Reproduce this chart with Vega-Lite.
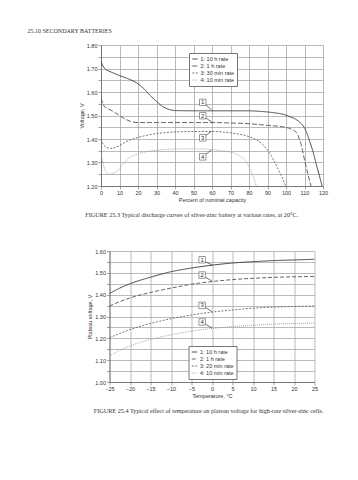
{
  "$schema": "https://vega.github.io/schema/vega-lite/v6.json",
  "padding": {"left": 27, "top": 27, "right": 5, "bottom": 5},
  "background": "white",
  "title": {"text": "25.10     SECONDARY BATTERIES", "anchor": "start", "dx": -51.8, "offset": 9.5, "font": "Liberation Serif", "fontSize": 6, "fontWeight": "normal", "color": "#333"},
  "bounds": "flush",
  "center": true,
  "spacing": 65,
  "datasets": {
    "discharge": [
      {"x": 0, "v": 1.73, "s": "1: 10 h rate"}, {"x": 1, "v": 1.712, "s": "1: 10 h rate"}, {"x": 2, "v": 1.70, "s": "1: 10 h rate"}, {"x": 4, "v": 1.69, "s": "1: 10 h rate"}, {"x": 7, "v": 1.68, "s": "1: 10 h rate"}, {"x": 10, "v": 1.67, "s": "1: 10 h rate"}, {"x": 15, "v": 1.655, "s": "1: 10 h rate"}, {"x": 20, "v": 1.635, "s": "1: 10 h rate"}, {"x": 23, "v": 1.615, "s": "1: 10 h rate"}, {"x": 26, "v": 1.59, "s": "1: 10 h rate"}, {"x": 30, "v": 1.56, "s": "1: 10 h rate"}, {"x": 33, "v": 1.54, "s": "1: 10 h rate"}, {"x": 36, "v": 1.528, "s": "1: 10 h rate"}, {"x": 40, "v": 1.521, "s": "1: 10 h rate"}, {"x": 50, "v": 1.52, "s": "1: 10 h rate"}, {"x": 60, "v": 1.52, "s": "1: 10 h rate"}, {"x": 70, "v": 1.52, "s": "1: 10 h rate"}, {"x": 80, "v": 1.52, "s": "1: 10 h rate"}, {"x": 85, "v": 1.518, "s": "1: 10 h rate"}, {"x": 90, "v": 1.515, "s": "1: 10 h rate"}, {"x": 95, "v": 1.51, "s": "1: 10 h rate"}, {"x": 98.5, "v": 1.505, "s": "1: 10 h rate"}, {"x": 102, "v": 1.495, "s": "1: 10 h rate"}, {"x": 105, "v": 1.485, "s": "1: 10 h rate"}, {"x": 107.6, "v": 1.47, "s": "1: 10 h rate"}, {"x": 110.2, "v": 1.444, "s": "1: 10 h rate"}, {"x": 113, "v": 1.385, "s": "1: 10 h rate"}, {"x": 115, "v": 1.335, "s": "1: 10 h rate"}, {"x": 116.6, "v": 1.285, "s": "1: 10 h rate"}, {"x": 118, "v": 1.245, "s": "1: 10 h rate"}, {"x": 119.5, "v": 1.20, "s": "1: 10 h rate"},
      {"x": 0, "v": 1.575, "s": "2: 1 h rate"}, {"x": 1, "v": 1.55, "s": "2: 1 h rate"}, {"x": 2, "v": 1.537, "s": "2: 1 h rate"}, {"x": 4, "v": 1.528, "s": "2: 1 h rate"}, {"x": 6, "v": 1.52, "s": "2: 1 h rate"}, {"x": 8, "v": 1.51, "s": "2: 1 h rate"}, {"x": 10, "v": 1.50, "s": "2: 1 h rate"}, {"x": 13, "v": 1.485, "s": "2: 1 h rate"}, {"x": 16, "v": 1.475, "s": "2: 1 h rate"}, {"x": 20, "v": 1.47, "s": "2: 1 h rate"}, {"x": 30, "v": 1.47, "s": "2: 1 h rate"}, {"x": 40, "v": 1.47, "s": "2: 1 h rate"}, {"x": 50, "v": 1.47, "s": "2: 1 h rate"}, {"x": 60, "v": 1.47, "s": "2: 1 h rate"}, {"x": 70, "v": 1.468, "s": "2: 1 h rate"}, {"x": 80, "v": 1.465, "s": "2: 1 h rate"}, {"x": 90, "v": 1.458, "s": "2: 1 h rate"}, {"x": 98, "v": 1.452, "s": "2: 1 h rate"}, {"x": 102, "v": 1.445, "s": "2: 1 h rate"}, {"x": 104, "v": 1.437, "s": "2: 1 h rate"}, {"x": 105.7, "v": 1.427, "s": "2: 1 h rate"}, {"x": 107.2, "v": 1.40, "s": "2: 1 h rate"}, {"x": 108.4, "v": 1.37, "s": "2: 1 h rate"}, {"x": 110.3, "v": 1.30, "s": "2: 1 h rate"}, {"x": 112.1, "v": 1.243, "s": "2: 1 h rate"}, {"x": 113.5, "v": 1.20, "s": "2: 1 h rate"},
      {"x": 0, "v": 1.40, "s": "3: 30 min rate"}, {"x": 1, "v": 1.38, "s": "3: 30 min rate"}, {"x": 3, "v": 1.365, "s": "3: 30 min rate"}, {"x": 5, "v": 1.36, "s": "3: 30 min rate"}, {"x": 7, "v": 1.362, "s": "3: 30 min rate"}, {"x": 10, "v": 1.372, "s": "3: 30 min rate"}, {"x": 14, "v": 1.39, "s": "3: 30 min rate"}, {"x": 18, "v": 1.402, "s": "3: 30 min rate"}, {"x": 25, "v": 1.416, "s": "3: 30 min rate"}, {"x": 30, "v": 1.423, "s": "3: 30 min rate"}, {"x": 40, "v": 1.43, "s": "3: 30 min rate"}, {"x": 50, "v": 1.432, "s": "3: 30 min rate"}, {"x": 60, "v": 1.432, "s": "3: 30 min rate"}, {"x": 70, "v": 1.426, "s": "3: 30 min rate"}, {"x": 75, "v": 1.42, "s": "3: 30 min rate"}, {"x": 80, "v": 1.41, "s": "3: 30 min rate"}, {"x": 85, "v": 1.392, "s": "3: 30 min rate"}, {"x": 88, "v": 1.372, "s": "3: 30 min rate"}, {"x": 91, "v": 1.342, "s": "3: 30 min rate"}, {"x": 94, "v": 1.30, "s": "3: 30 min rate"}, {"x": 96, "v": 1.268, "s": "3: 30 min rate"}, {"x": 98, "v": 1.234, "s": "3: 30 min rate"}, {"x": 99.8, "v": 1.20, "s": "3: 30 min rate"},
      {"x": 0, "v": 1.34, "s": "4: 10 min rate"}, {"x": 1, "v": 1.30, "s": "4: 10 min rate"}, {"x": 2, "v": 1.272, "s": "4: 10 min rate"}, {"x": 3, "v": 1.256, "s": "4: 10 min rate"}, {"x": 4.5, "v": 1.25, "s": "4: 10 min rate"}, {"x": 6, "v": 1.252, "s": "4: 10 min rate"}, {"x": 8, "v": 1.26, "s": "4: 10 min rate"}, {"x": 10, "v": 1.275, "s": "4: 10 min rate"}, {"x": 12, "v": 1.295, "s": "4: 10 min rate"}, {"x": 15, "v": 1.318, "s": "4: 10 min rate"}, {"x": 20, "v": 1.337, "s": "4: 10 min rate"}, {"x": 25, "v": 1.347, "s": "4: 10 min rate"}, {"x": 30, "v": 1.352, "s": "4: 10 min rate"}, {"x": 40, "v": 1.357, "s": "4: 10 min rate"}, {"x": 50, "v": 1.358, "s": "4: 10 min rate"}, {"x": 60, "v": 1.355, "s": "4: 10 min rate"}, {"x": 65, "v": 1.35, "s": "4: 10 min rate"}, {"x": 70, "v": 1.344, "s": "4: 10 min rate"}, {"x": 75, "v": 1.328, "s": "4: 10 min rate"}, {"x": 78, "v": 1.308, "s": "4: 10 min rate"}, {"x": 80, "v": 1.283, "s": "4: 10 min rate"}, {"x": 82, "v": 1.245, "s": "4: 10 min rate"}, {"x": 84, "v": 1.20, "s": "4: 10 min rate"}
    ],
    "discharge_tags": [
      {"n": "1", "x": 55, "v": 1.556, "x1": 56.7, "v1": 1.545, "x2": 59.8, "v2": 1.524},
      {"n": "2", "x": 55, "v": 1.499, "x1": 56.7, "v1": 1.489, "x2": 59.8, "v2": 1.473},
      {"n": "3", "x": 55, "v": 1.405, "x1": 56.7, "v1": 1.416, "x2": 59.8, "v2": 1.433},
      {"n": "4", "x": 55, "v": 1.324, "x1": 56.7, "v1": 1.335, "x2": 59.8, "v2": 1.354}
    ],
    "plateau": [
      {"t": -25, "v": 1.405, "s": "1: 10 h rate"}, {"t": -22.5, "v": 1.43, "s": "1: 10 h rate"}, {"t": -20, "v": 1.45, "s": "1: 10 h rate"}, {"t": -15, "v": 1.48, "s": "1: 10 h rate"}, {"t": -10, "v": 1.505, "s": "1: 10 h rate"}, {"t": -5, "v": 1.522, "s": "1: 10 h rate"}, {"t": 0, "v": 1.535, "s": "1: 10 h rate"}, {"t": 5, "v": 1.545, "s": "1: 10 h rate"}, {"t": 10, "v": 1.551, "s": "1: 10 h rate"}, {"t": 15, "v": 1.556, "s": "1: 10 h rate"}, {"t": 20, "v": 1.559, "s": "1: 10 h rate"}, {"t": 25, "v": 1.562, "s": "1: 10 h rate"},
      {"t": -25, "v": 1.348, "s": "2: 1 h rate"}, {"t": -22.5, "v": 1.368, "s": "2: 1 h rate"}, {"t": -20, "v": 1.385, "s": "2: 1 h rate"}, {"t": -15, "v": 1.41, "s": "2: 1 h rate"}, {"t": -10, "v": 1.43, "s": "2: 1 h rate"}, {"t": -5, "v": 1.448, "s": "2: 1 h rate"}, {"t": 0, "v": 1.46, "s": "2: 1 h rate"}, {"t": 5, "v": 1.469, "s": "2: 1 h rate"}, {"t": 10, "v": 1.475, "s": "2: 1 h rate"}, {"t": 15, "v": 1.479, "s": "2: 1 h rate"}, {"t": 20, "v": 1.482, "s": "2: 1 h rate"}, {"t": 25, "v": 1.483, "s": "2: 1 h rate"},
      {"t": -25, "v": 1.203, "s": "3: 20 min rate"}, {"t": -22.5, "v": 1.222, "s": "3: 20 min rate"}, {"t": -20, "v": 1.24, "s": "3: 20 min rate"}, {"t": -15, "v": 1.268, "s": "3: 20 min rate"}, {"t": -10, "v": 1.29, "s": "3: 20 min rate"}, {"t": -5, "v": 1.307, "s": "3: 20 min rate"}, {"t": 0, "v": 1.32, "s": "3: 20 min rate"}, {"t": 5, "v": 1.33, "s": "3: 20 min rate"}, {"t": 10, "v": 1.338, "s": "3: 20 min rate"}, {"t": 15, "v": 1.343, "s": "3: 20 min rate"}, {"t": 20, "v": 1.346, "s": "3: 20 min rate"}, {"t": 25, "v": 1.348, "s": "3: 20 min rate"},
      {"t": -25, "v": 1.119, "s": "4: 10 min rate"}, {"t": -22.5, "v": 1.145, "s": "4: 10 min rate"}, {"t": -20, "v": 1.165, "s": "4: 10 min rate"}, {"t": -15, "v": 1.195, "s": "4: 10 min rate"}, {"t": -10, "v": 1.216, "s": "4: 10 min rate"}, {"t": -5, "v": 1.233, "s": "4: 10 min rate"}, {"t": 0, "v": 1.245, "s": "4: 10 min rate"}, {"t": 5, "v": 1.254, "s": "4: 10 min rate"}, {"t": 10, "v": 1.26, "s": "4: 10 min rate"}, {"t": 15, "v": 1.265, "s": "4: 10 min rate"}, {"t": 20, "v": 1.268, "s": "4: 10 min rate"}, {"t": 25, "v": 1.27, "s": "4: 10 min rate"}
    ],
    "plateau_tags": [
      {"n": "1", "t": -2.4, "v": 1.560, "t1": -1.6, "v1": 1.550, "t2": 0, "v2": 1.537},
      {"n": "2", "t": -2.4, "v": 1.490, "t1": -1.6, "v1": 1.480, "t2": 0, "v2": 1.462},
      {"n": "3", "t": -2.4, "v": 1.351, "t1": -1.6, "v1": 1.341, "t2": 0, "v2": 1.322},
      {"n": "4", "t": -2.4, "v": 1.275, "t1": -1.6, "v1": 1.265, "t2": 0, "v2": 1.247}
    ]
  },
  "vconcat": [
    {
      "width": 222,
      "height": 141,
      "title": {"text": "FIGURE 25.3    Typical discharge curves of silver-zinc battery at various rates, at 20°C.", "orient": "bottom", "anchor": "start", "offset": 9, "dx": 6, "font": "Liberation Serif", "fontSize": 6.2, "fontWeight": "normal", "color": "#333"},
      "layer": [
        {
          "data": {"name": "discharge"},
          "mark": {"type": "line", "strokeWidth": 0.9, "clip": true, "interpolate": "monotone"},
          "encoding": {
            "x": {"field": "x", "type": "quantitative", "scale": {"domain": [0, 120], "nice": false},
                  "axis": {"values": [0, 10, 20, 30, 40, 50, 60, 70, 80, 90, 100, 110, 120], "labelOverlap": false, "title": "Percent of nominal capacity"}},
            "y": {"field": "v", "type": "quantitative", "scale": {"domain": [1.2, 1.8], "zero": false, "nice": false},
                  "axis": {"values": [1.2, 1.25, 1.3, 1.35, 1.4, 1.45, 1.5, 1.55, 1.6, 1.65, 1.7, 1.75, 1.8], "labelOverlap": false,
                           "labelExpr": "round(datum.value*100) % 10 == 0 ? format(datum.value, '.2f') : ''", "title": "Voltage, V"}},
            "color": {"field": "s", "type": "nominal",
                      "scale": {"domain": ["1: 10 h rate", "2: 1 h rate", "3: 30 min rate", "4: 10 min rate"], "range": ["#333333", "#555555", "#666666", "#a0a0a0"]},
                      "legend": {"orient": "none", "legendX": 88, "legendY": 8, "title": null}},
            "strokeDash": {"field": "s", "type": "nominal",
                      "scale": {"domain": ["1: 10 h rate", "2: 1 h rate", "3: 30 min rate", "4: 10 min rate"], "range": [[1, 0], [5, 2], [2, 1.5], [1, 1]]},
                      "legend": {"orient": "none", "legendX": 88, "legendY": 8, "title": null}}
          }
        },
        {
          "data": {"name": "discharge_tags"},
          "mark": {"type": "rule", "stroke": "#333", "strokeWidth": 0.7},
          "encoding": {
            "x": {"field": "x1", "type": "quantitative", "axis": {"values": [0, 10, 20, 30, 40, 50, 60, 70, 80, 90, 100, 110, 120], "labelOverlap": false, "title": "Percent of nominal capacity"}},
            "y": {"field": "v1", "type": "quantitative", "axis": {"values": [1.2, 1.25, 1.3, 1.35, 1.4, 1.45, 1.5, 1.55, 1.6, 1.65, 1.7, 1.75, 1.8], "labelOverlap": false,
                           "labelExpr": "round(datum.value*100) % 10 == 0 ? format(datum.value, '.2f') : ''", "title": "Voltage, V"}},
            "x2": {"field": "x2"}, "y2": {"field": "v2"}}
        },
        {
          "data": {"name": "discharge_tags"},
          "mark": {"type": "point", "shape": "square", "filled": true, "fill": "white", "stroke": "#555", "strokeWidth": 0.6, "size": 42, "opacity": 1},
          "encoding": {
            "x": {"field": "x", "type": "quantitative", "axis": {"values": [0, 10, 20, 30, 40, 50, 60, 70, 80, 90, 100, 110, 120], "labelOverlap": false, "title": "Percent of nominal capacity"}},
            "y": {"field": "v", "type": "quantitative", "axis": {"values": [1.2, 1.25, 1.3, 1.35, 1.4, 1.45, 1.5, 1.55, 1.6, 1.65, 1.7, 1.75, 1.8], "labelOverlap": false,
                           "labelExpr": "round(datum.value*100) % 10 == 0 ? format(datum.value, '.2f') : ''", "title": "Voltage, V"}}}
        },
        {
          "data": {"name": "discharge_tags"},
          "mark": {"type": "text", "fontSize": 6, "color": "#333", "baseline": "middle", "align": "center"},
          "encoding": {
            "x": {"field": "x", "type": "quantitative", "axis": {"values": [0, 10, 20, 30, 40, 50, 60, 70, 80, 90, 100, 110, 120], "labelOverlap": false, "title": "Percent of nominal capacity"}},
            "y": {"field": "v", "type": "quantitative", "axis": {"values": [1.2, 1.25, 1.3, 1.35, 1.4, 1.45, 1.5, 1.55, 1.6, 1.65, 1.7, 1.75, 1.8], "labelOverlap": false,
                           "labelExpr": "round(datum.value*100) % 10 == 0 ? format(datum.value, '.2f') : ''", "title": "Voltage, V"}},
            "text": {"field": "n"}}
        }
      ]
    },
    {
      "width": 205,
      "height": 131,
      "title": {"text": "FIGURE 25.4    Typical effect of temperature on plateau voltage for high-rate silver-zinc cells.", "orient": "bottom", "anchor": "start", "offset": 9, "dx": 6, "font": "Liberation Serif", "fontSize": 6.2, "fontWeight": "normal", "color": "#333"},
      "layer": [
        {
          "data": {"name": "plateau"},
          "mark": {"type": "line", "strokeWidth": 0.9, "clip": true, "interpolate": "monotone"},
          "encoding": {
            "x": {"field": "t", "type": "quantitative", "scale": {"domain": [-25, 25], "nice": false},
                  "axis": {"values": [-25, -20, -15, -10, -5, 0, 5, 10, 15, 20, 25], "labelOverlap": false, "labelExpr": "replace(format(datum.value, 'd'), '-', '−')", "title": "Temperature, °C"}},
            "y": {"field": "v", "type": "quantitative", "scale": {"domain": [1.0, 1.6], "zero": false, "nice": false},
                  "axis": {"values": [1.0, 1.05, 1.1, 1.15, 1.2, 1.25, 1.3, 1.35, 1.4, 1.45, 1.5, 1.55, 1.6], "labelOverlap": false,
                           "labelExpr": "round(datum.value*100) % 10 == 0 ? format(datum.value, '.2f') : ''", "title": "Plateau voltage, V"}},
            "color": {"field": "s", "type": "nominal",
                      "scale": {"domain": ["1: 10 h rate", "2: 1 h rate", "3: 20 min rate", "4: 10 min rate"], "range": ["#333333", "#555555", "#666666", "#a0a0a0"]},
                      "legend": {"orient": "none", "legendX": 79, "legendY": 95, "title": null}},
            "strokeDash": {"field": "s", "type": "nominal",
                      "scale": {"domain": ["1: 10 h rate", "2: 1 h rate", "3: 20 min rate", "4: 10 min rate"], "range": [[1, 0], [4, 2], [2, 1.5], [1, 1]]},
                      "legend": {"orient": "none", "legendX": 79, "legendY": 95, "title": null}}
          }
        },
        {
          "data": {"name": "plateau_tags"},
          "mark": {"type": "rule", "stroke": "#333", "strokeWidth": 0.7},
          "encoding": {
            "x": {"field": "t1", "type": "quantitative", "axis": {"values": [-25, -20, -15, -10, -5, 0, 5, 10, 15, 20, 25], "labelOverlap": false, "labelExpr": "replace(format(datum.value, 'd'), '-', '−')", "title": "Temperature, °C"}},
            "y": {"field": "v1", "type": "quantitative", "axis": {"values": [1.0, 1.05, 1.1, 1.15, 1.2, 1.25, 1.3, 1.35, 1.4, 1.45, 1.5, 1.55, 1.6], "labelOverlap": false,
                           "labelExpr": "round(datum.value*100) % 10 == 0 ? format(datum.value, '.2f') : ''", "title": "Plateau voltage, V"}},
            "x2": {"field": "t2"}, "y2": {"field": "v2"}}
        },
        {
          "data": {"name": "plateau_tags"},
          "mark": {"type": "point", "shape": "square", "filled": true, "fill": "white", "stroke": "#555", "strokeWidth": 0.6, "size": 42, "opacity": 1},
          "encoding": {
            "x": {"field": "t", "type": "quantitative", "axis": {"values": [-25, -20, -15, -10, -5, 0, 5, 10, 15, 20, 25], "labelOverlap": false, "labelExpr": "replace(format(datum.value, 'd'), '-', '−')", "title": "Temperature, °C"}},
            "y": {"field": "v", "type": "quantitative", "axis": {"values": [1.0, 1.05, 1.1, 1.15, 1.2, 1.25, 1.3, 1.35, 1.4, 1.45, 1.5, 1.55, 1.6], "labelOverlap": false,
                           "labelExpr": "round(datum.value*100) % 10 == 0 ? format(datum.value, '.2f') : ''", "title": "Plateau voltage, V"}}}
        },
        {
          "data": {"name": "plateau_tags"},
          "mark": {"type": "text", "fontSize": 6, "color": "#333", "baseline": "middle", "align": "center"},
          "encoding": {
            "x": {"field": "t", "type": "quantitative", "axis": {"values": [-25, -20, -15, -10, -5, 0, 5, 10, 15, 20, 25], "labelOverlap": false, "labelExpr": "replace(format(datum.value, 'd'), '-', '−')", "title": "Temperature, °C"}},
            "y": {"field": "v", "type": "quantitative", "axis": {"values": [1.0, 1.05, 1.1, 1.15, 1.2, 1.25, 1.3, 1.35, 1.4, 1.45, 1.5, 1.55, 1.6], "labelOverlap": false,
                           "labelExpr": "round(datum.value*100) % 10 == 0 ? format(datum.value, '.2f') : ''", "title": "Plateau voltage, V"}},
            "text": {"field": "n"}}
        }
      ],
      "resolve": {"scale": {"color": "independent", "strokeDash": "independent"}}
    }
  ],
  "resolve": {"scale": {"color": "independent", "strokeDash": "independent"}, "legend": {"color": "independent", "strokeDash": "independent"}},
  "config": {
    "font": "Liberation Sans",
    "view": {"stroke": null},
    "axis": {
      "grid": true, "gridColor": "#a8a8a8", "gridWidth": 0.8, "gridOpacity": 1,
      "domainColor": "#666", "domainWidth": 0.8,
      "tickColor": "#666", "tickSize": 3, "tickWidth": 0.6,
      "labelFontSize": 5.5, "labelColor": "#333", "labelPadding": 1, "labelFlush": false,
      "titleFontSize": 5.5, "titleFontWeight": "normal", "titleColor": "#333", "titlePadding": 2
    },
    "legend": {
      "labelFontSize": 5.5, "labelColor": "#333", "symbolType": "stroke", "symbolSize": 30, "symbolStrokeWidth": 0.9,
      "strokeColor": "#777", "fillColor": "white", "padding": 2.5, "rowPadding": 0, "labelOffset": 2, "cornerRadius": 0
    }
  }
}
